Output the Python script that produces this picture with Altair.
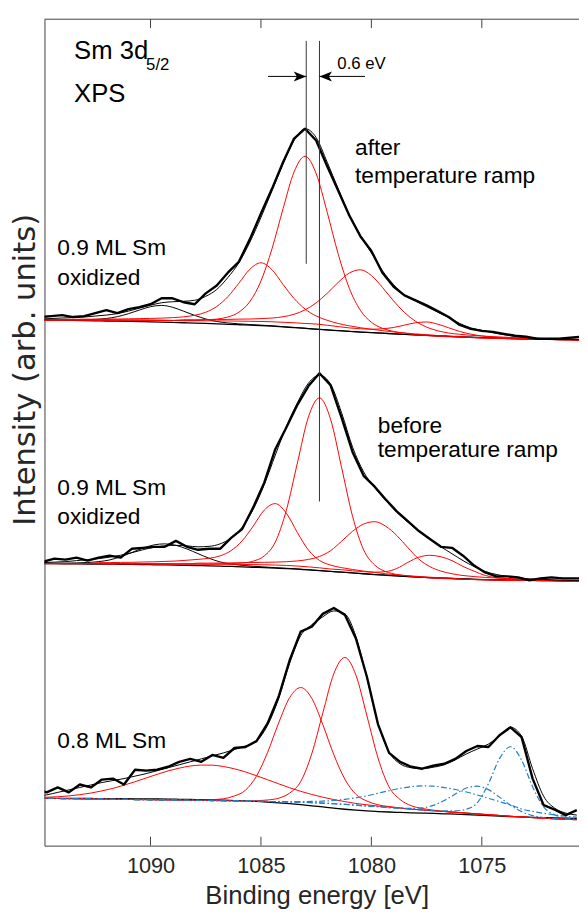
import altair as alt
import pandas as pd

# ---------------------------------------------------------------- grids
STEP = 0.5
N = 50
TOP_E0 = 1095.0      # first energy of the top-spectrum grid (eV), step -0.5
MID_E0 = 1094.85
BOT_E0 = 1095.2
OFFSETS = {"top": 533, "mid": 286, "bot": 48}   # vertical stacking offsets
TICKS = [1090, 1085, 1080, 1075]

# ---------------------------------------------------------------- top: 0.9 ML Sm oxidized, after ramp
TOP_DATA = [3, 4, 5, 3, 4, 7, 10, 7, 11, 13, 16, 22, 22, 18, 16, 27, 35, 48, 59, 82,
            108, 133, 160, 184, 194, 182, 156, 131, 106, 85, 70, 48, 34, 25, 20, 15, 9, 3, -5, -9,
            -11, -12, -14, -16, -17, -19, -19, -19, -18, -17]
TOP_FIT = [1, 1.5, 2, 2.5, 3, 4, 5, 6.5, 9, 12, 15, 17.5, 18.5, 19, 20, 24, 31, 43, 58, 79,
           104, 131, 158, 182, 194, 185, 160, 133, 107, 86, 68, 50, 36, 25, 19, 13.5, 8, 2.5, -3.5, -8,
           -10.5, -13, -15, -16.5, -17.5, -18.5, -19, -19.5, -19.5, -20]
TOP_BG = [0, -0.1, -0.2, -0.4, -0.6, -0.8, -1.0, -1.2, -1.4, -1.6, -1.9, -2.2, -2.5, -2.8, -3.1,
          -3.5, -4.0, -4.4, -4.8, -5.2, -5.7, -6.3, -7.0, -7.8, -8.5, -9.3, -10.1, -10.8, -11.5, -12.2,
          -12.8, -13.4, -14.0, -14.6, -15.1, -15.6, -16.1, -16.6, -17.1, -17.5, -17.9, -18.2, -18.6,
          -18.9, -19.2, -19.4, -19.6, -19.8, -20.0, -20.2]
TOP_BASE = [0, 0, 0, 0, 0, 0, 0, -0.1, -0.1, -0.2, -0.3, -0.4, -0.5, -0.6, -0.7, -0.8, -0.9, -1.0,
            -1.1, -1.3, -1.5, -1.8, -2.3, -2.8, -3.5, -4.5, -5.8, -7.3, -8.8, -10.1, -11.3, -12.4,
            -13.4, -14.3, -15.1, -15.8, -16.5, -17.0, -17.4, -17.8, -18.2, -18.5, -18.8, -19.1, -19.3,
            -19.5, -19.7, -19.9, -20.0, -20.2]
TOP_SAT = (0, [0.3, 0.4, 0.5, 0.6, 0.9, 1.4, 2.5, 4.6, 7.8, 11.7, 15.4, 17, 15.4, 11.7, 7.8, 4.6,
               2.5, 1.4, 0.9, 0.6, 0.5, 0.4, 0.3, 0.3, 0.2])
TOP_RED = [
    (15, [1.0, 1.8, 4, 9, 20, 41, 74, 115, 153, 169.5, 153, 115, 74, 41, 20, 9, 4, 1.8, 1.0]),
    (2, [0.6, 0.7, 0.8, 0.9, 1.0, 1.1, 1.3, 1.6, 1.9, 2.3, 2.9, 3.8, 5.5, 8.6, 14.6, 24.6, 38.4,
         52.8, 59.5, 52.8, 38.4, 24.6, 14.6, 8.6, 5.5, 3.8, 2.9, 2.3, 1.9, 1.6, 1.3, 1.1, 1.0, 0.9,
         0.8, 0.7, 0.6]),
    (13, [0.9, 1.0, 1.2, 1.4, 1.6, 2.0, 2.3, 2.9, 3.8, 5.6, 8.6, 13.8, 21.9, 32.9, 45.5, 56.4, 61,
          56.4, 45.5, 32.9, 21.9, 13.8, 8.6, 5.6, 3.8, 2.9, 2.3, 2.0, 1.6, 1.4, 1.2, 1.0, 0.9]),
    (25, [0.4, 0.5, 0.6, 0.8, 1.2, 2.0, 3.5, 5.8, 9.1, 12.3, 13.8, 12.3, 9.1, 5.8, 3.5, 2.0, 1.2,
          0.8, 0.6, 0.5, 0.4]),
]

# ---------------------------------------------------------------- middle: 0.9 ML Sm oxidized, before ramp
MID_DATA = [2, 5, 4, 6, 3, 6, 8, 6, 15, 16, 17, 17, 23, 17, 14, 15, 15, 26, 35, 57,
            82, 116, 138, 161, 180, 193, 181, 148, 113, 89, 78, 65, 53, 43, 33, 25, 17, 16, 8, -2,
            -9, -13, -13, -14, -17, -15, -14, -15, -15, -15]
MID_FIT = [1, 1.5, 2, 3, 4, 5, 6.5, 8.5, 11, 14, 16.5, 18, 18.5, 18, 17, 17.5, 20, 26, 37, 55,
           80, 110, 139, 163, 183, 191, 182, 153, 118, 93, 77, 64, 52, 42, 33, 25, 17, 10, 3, -3,
           -8, -11, -13, -14.5, -15.5, -16, -16.5, -16.8, -17, -17]
MID_BG = [0, -0.1, -0.2, -0.3, -0.4, -0.5, -0.6, -0.7, -0.9, -1.0, -1.2, -1.4, -1.6, -1.8, -2.0,
          -2.3, -2.6, -2.9, -3.3, -3.7, -4.1, -4.6, -5.1, -5.7, -6.4, -7.1, -7.9, -8.7, -9.5, -10.3,
          -11.1, -11.8, -12.5, -13.1, -13.7, -14.2, -14.7, -15.1, -15.5, -15.9, -16.2, -16.5, -16.7,
          -16.9, -17.1, -17.2, -17.3, -17.4, -17.5, -17.5]
MID_BASE = [0, 0, 0, 0, 0, 0, -0.1, -0.1, -0.2, -0.2, -0.3, -0.3, -0.4, -0.4, -0.5, -0.6, -0.7,
            -0.8, -0.9, -1.0, -1.2, -1.5, -1.9, -2.5, -3.3, -4.3, -5.5, -6.9, -8.2, -9.4, -10.5,
            -11.6, -12.5, -13.3, -14.0, -14.6, -15.1, -15.5, -15.9, -16.2, -16.5, -16.7, -16.9,
            -17.0, -17.1, -17.2, -17.3, -17.4, -17.4, -17.5]
MID_SAT = (1, [0.5, 0.7, 1.0, 1.5, 2.5, 4.3, 7.7, 12.1, 16.6, 20.1, 21.4, 20.1, 16.6, 12.1, 7.7,
               4.3, 2.5, 1.5, 1.0, 0.7, 0.5, 0.4, 0.3, 0.2])
MID_RED = [
    (16, [0.4, 0.8, 1.5, 3.5, 9, 23.3, 56, 104.5, 152, 172.3, 152, 104.5, 56, 23.3, 9, 3.5, 1.5,
          0.8, 0.4]),
    (5, [1.0, 1.1, 1.3, 1.5, 1.8, 2.1, 2.5, 3, 3.8, 4.8, 6, 8.5, 14, 24, 39, 55.5, 62.3, 53, 34,
         17, 7.5, 4, 2.8, 2.2, 1.8, 1.5, 1.3, 1.1, 1.0, 0.9, 0.8, 0.7, 0.6]),
    (14, [1.0, 1.1, 1.3, 1.5, 1.8, 2.1, 2.5, 3, 3.8, 5.2, 7.5, 11.5, 18.5, 29.5, 41, 49.5, 53,
          49.5, 41, 29.5, 18.5, 11.5, 7.5, 5.2, 3.8, 3, 2.5, 2.1, 1.8, 1.5, 1.3, 1.1, 1.0]),
    (27, [0.7, 0.9, 1.2, 1.8, 3.5, 7.5, 14.5, 20.5, 23, 22, 18.5, 13, 8.5, 4.5, 2.5, 1.5, 1.0,
          0.8, 0.6]),
]

# ---------------------------------------------------------------- bottom: 0.8 ML Sm
BOT_DATA = [10, 6, 11, 6, 14, 11, 19, 20, 14, 29, 28, 29, 32, 37, 40, 37, 44, 41, 51, 52,
            58, 76, 103, 140, 169, 174, 187, 193, 186, 162, 123, 75, 46, 37, 32, 30, 33, 35, 40, 48,
            53, 52, 64, 72, 62, 20, -7, -11.5, -17, -12]
BOT_FIT = [2, 3.5, 6, 8.5, 11, 13.5, 16, 18, 20, 22.5, 25, 28, 31, 34, 37, 40, 43, 46, 49.5, 53,
           58, 74, 101, 137, 165, 176, 184, 190, 187, 164, 122, 76, 47, 35, 31, 30, 31.5, 34, 39, 45,
           50, 55, 63, 72, 63, 30, 2, -10, -15, -17]
BOT_BG = [0, 0, -0.1, -0.1, -0.2, -0.2, -0.3, -0.3, -0.4, -0.5, -0.6, -0.7, -0.8, -1.0, -1.2,
          -1.4, -1.6, -1.9, -2.3, -2.7, -3.2, -3.8, -4.6, -5.5, -6.5, -7.6, -8.8, -10.0, -11.1,
          -12.0, -12.8, -13.4, -13.9, -14.3, -14.7, -15.0, -15.3, -15.7, -16.1, -16.5, -17.0, -17.5,
          -18.0, -18.5, -18.9, -19.3, -19.6, -19.9, -20.1, -20.3]
BOT_BASE = [0, -0.1, -0.2, -0.4, -0.5, -0.7, -0.8, -1.0, -1.1, -1.3, -1.4, -1.6, -1.7, -1.9, -2.0,
            -2.2, -2.3, -2.5, -2.6, -2.8, -3.0, -3.2, -3.4, -3.7, -4.0, -4.4, -4.9, -5.5, -6.2, -7.0,
            -7.8, -8.6, -9.4, -10.2, -11.0, -11.8, -12.6, -13.4, -14.2, -15.0, -15.8, -16.6, -17.4,
            -18.2, -18.9, -19.6, -20.2, -20.8, -21.3, -21.7]
BOT_RED = [
    (0, [0.7, 1.2, 1.8, 2.8, 4.2, 6.0, 8.3, 11.1, 14.4, 18.1, 22.0, 25.9, 29.5, 32.5, 34.7, 35.9,
         35.9, 34.7, 32.5, 29.5, 25.9, 22.0, 18.1, 14.4, 11.1, 8.3, 6.0, 4.2, 2.8, 1.8, 1.2, 0.7,
         0.4, 0.2]),
    (15, [0.5, 1, 2, 5, 11, 25.6, 49.7, 79.7, 105.8, 116.3, 105.8, 79.7, 49.7, 25.6, 11, 5, 2, 1,
          0.5]),
    (20, [0.6, 1.5, 3.5, 9, 21, 49.5, 91.3, 131.9, 149, 131.9, 91.3, 49.5, 21, 9, 3.5, 1.5, 0.6]),
]
BOT_BLUE = [
    (23, [0.4, 0.7, 1.2, 2.1, 3.4, 5.2, 7.5, 10.4, 13.7, 17.1, 20.3, 22.8, 24.4, 24.9, 24.3, 23.1,
          21.4, 19.1, 16.6, 14.0, 11.5, 8, 6.3, 5, 4, 3.2, 2.6]),
    (33, [0.3, 0.7, 2.1, 5.4, 11.1, 18.6, 25.4, 28.1, 25.4, 18.6, 11.1, 5.4, 2.1, 0.7, 0.3]),
    (37, [0.7, 1.5, 4, 11.4, 31.4, 57.6, 70.5, 57.6, 31.4, 11.4, 4, 1.5, 0.7]),
]

# ---------------------------------------------------------------- annotations
# (text, energy, height, font size)
LABELS = [
    ("Sm 3d", 1093.46, 798, 26), ("5/2", 1090.2, 786, 17), ("XPS", 1093.46, 754, 26),
    ("after", 1080.74, 700, 23), ("temperature ramp", 1080.74, 672, 23),
    ("0.9 ML Sm", 1094.22, 599, 23), ("oxidized", 1094.22, 569, 23),
    ("before", 1079.71, 418, 23), ("temperature ramp", 1079.71, 394, 23),
    ("0.9 ML Sm", 1094.22, 356, 23), ("oxidized", 1094.22, 326, 23),
    ("0.8 ML Sm", 1094.22, 99, 23), ("0.6 eV", 1081.54, 788, 17),
]
PEAK_LINES = [(1082.95, 590, 816), (1082.35, 349, 816)]   # energy, y from, y to
ARROWS = [(1084.68, 1082.95, 780, "right"), (1080.29, 1082.35, 780, "left")]

# ---------------------------------------------------------------- build long table
rows = []


def full(start, vals):
    out = [0.0] * N
    for k, v in enumerate(vals):
        out[start + k] = v
    return out


def add(sid, kind, e0, base, vals, off):
    for i in range(N):
        rows.append({"sid": sid, "kind": kind, "E": round(e0 - STEP * i, 3),
                     "y": off + base[i] + vals[i], "i": i})


zeros = [0.0] * N
specs = [
    ("top", TOP_E0, TOP_DATA, TOP_FIT, TOP_BG, TOP_BASE, TOP_SAT, TOP_RED, []),
    ("mid", MID_E0, MID_DATA, MID_FIT, MID_BG, MID_BASE, MID_SAT, MID_RED, []),
    ("bot", BOT_E0, BOT_DATA, BOT_FIT, BOT_BG, BOT_BASE, None, BOT_RED, BOT_BLUE),
]
for name, e0, dat, fit, bg, base, sat, reds, blues in specs:
    off = OFFSETS[name]
    add(name + "_bg", "bg", e0, bg, zeros, off)
    if sat is not None:
        add(name + "_sat", "sat", e0, bg, full(*sat), off)
    for k, comp in enumerate(reds):
        add(f"{name}_r{k}", "red", e0, base, full(*comp), off)
    for k, comp in enumerate(blues):
        add(f"{name}_b{k}", "blue", e0, base, full(*comp), off)
    add(name + "_fit", "fit", e0, zeros, fit, off)
    add(name + "_data", "data", e0, zeros, dat, off)

df = pd.DataFrame(rows)
lab_df = pd.DataFrame(LABELS, columns=["text", "E", "y", "fs"])
vl_df = pd.DataFrame(PEAK_LINES, columns=["E", "y", "y2"])
arr_df = pd.DataFrame(ARROWS, columns=["E", "E2", "y", "dir"])
tick_df = pd.DataFrame({"E": TICKS})

W, H = 542, 838
FONT = "Liberation Sans"
AX = "#404040"

xscale = alt.Scale(domain=[1070.6, 1094.8], reverse=True, nice=False, zero=False)
yscale = alt.Scale(domain=[0, H], nice=False, zero=False)
xaxis = alt.Axis(values=TICKS, title="Binding energy [eV]", tickSize=0, grid=False,
                 labelFontSize=22, titleFontSize=26, labelFont=FONT, titleFont=FONT,
                 labelColor="#262626", titleColor="#262626", domainColor=AX,
                 labelPadding=10, titlePadding=7, format="d", titleFontWeight="normal",
                 labelFlush=False, titleX=276)
yaxis = alt.Axis(title="Intensity (arb. units)", labels=False, ticks=False, grid=False,
                 domainColor=AX, titleFontSize=31, titleFont="DejaVu Sans",
                 titleFontWeight="normal", titleColor="#262626", titleX=-10, titleY=355,
                 titleBaseline="alphabetic")

X = alt.X("E:Q", scale=xscale, axis=xaxis)
Y = alt.Y("y:Q", scale=yscale, axis=yaxis)

base = alt.Chart(df)


def lines(kind, **mk):
    return base.transform_filter(alt.datum.kind == kind).mark_line(clip=True, **mk).encode(
        x=X, y=Y, detail="sid:N", order="i:Q")


bg_l = lines("bg", color="black", strokeWidth=1.3, interpolate="monotone")
sat_l = lines("sat", color="black", strokeWidth=1, interpolate="monotone")
red_l = lines("red", color="#ff0000", strokeWidth=1, interpolate="monotone")
blue_l = lines("blue", color="#1f7fc9", strokeWidth=1.2, interpolate="monotone",
               strokeDash=[6, 2.5, 1.5, 2.5])
fit_l = lines("fit", color="black", strokeWidth=1, interpolate="monotone")
data_l = lines("data", color="black", strokeWidth=2.4, strokeJoin="round")

vlines = alt.Chart(vl_df).mark_rule(color="#333333", strokeWidth=1).encode(
    x=X, y=alt.Y("y:Q", scale=yscale, axis=yaxis), y2="y2:Q")
shafts = alt.Chart(arr_df).mark_rule(color="black", strokeWidth=1).encode(
    x=X, x2="E2:Q", y=alt.Y("y:Q", scale=yscale, axis=yaxis))
head_r = alt.Chart(arr_df).transform_filter(alt.datum.dir == "right").mark_point(
    shape="M0,0L-2,-0.8L-1.5,0L-2,0.8Z", size=160, filled=True, color="black", opacity=1
).encode(x=alt.X("E2:Q", scale=xscale, axis=xaxis), y=alt.Y("y:Q", scale=yscale, axis=yaxis))
head_l = alt.Chart(arr_df).transform_filter(alt.datum.dir == "left").mark_point(
    shape="M0,0L2,-0.8L1.5,0L2,0.8Z", size=160, filled=True, color="black", opacity=1
).encode(x=alt.X("E2:Q", scale=xscale, axis=xaxis), y=alt.Y("y:Q", scale=yscale, axis=yaxis))

texts = alt.Chart(lab_df).mark_text(align="left", baseline="alphabetic", font=FONT,
                                    color="black").encode(
    x=X, y=Y, text="text:N", size=alt.Size("fs:Q", scale=None, legend=None))

ticks_b = alt.Chart(tick_df).mark_rule(color=AX, strokeWidth=1).encode(
    x=X, y=alt.value(H - 9), y2=alt.value(H))
ticks_t = alt.Chart(tick_df).mark_rule(color=AX, strokeWidth=1).encode(
    x=X, y=alt.value(0), y2=alt.value(9))
top_border = alt.Chart(tick_df.head(1)).mark_rule(color=AX, strokeWidth=1).encode(
    x=alt.value(0), x2=alt.value(W), y=alt.value(0))

chart = alt.layer(
    bg_l, sat_l, red_l, blue_l, fit_l, data_l, vlines, shafts, head_r, head_l, texts,
    ticks_b, ticks_t, top_border
).properties(
    width=W, height=H,
    padding={"left": 37, "top": 5, "right": 0, "bottom": 67},
    autosize=alt.AutoSizeParams(type="none"),
    background="white",
).configure_view(stroke=None)

chart.save("out.html", embed_options={"renderer": "svg", "actions": False})
